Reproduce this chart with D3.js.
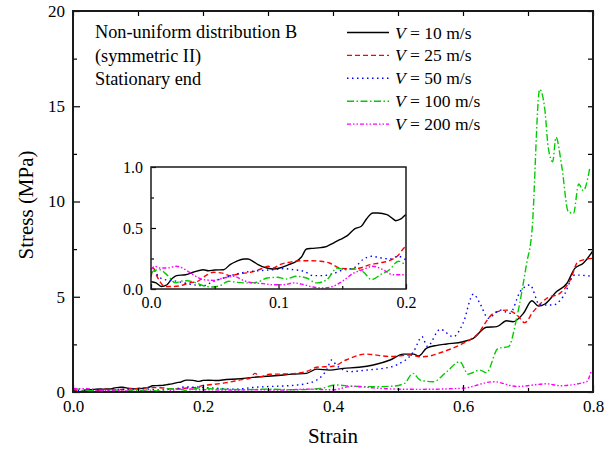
<!DOCTYPE html>
<html>
<head>
<meta charset="utf-8">
<script src="https://cdn.jsdelivr.net/npm/d3@7"></script>
<style>
body { margin: 0; background: #fff; }
text { font-family: "Liberation Serif", "Times New Roman", serif; fill: #000; }
</style>
</head>
<body>
<script>
// strain / stress pairs
var v10 = [[0,0.06],[0.004,0.05],[0.008,0.02],[0.0125,0.035],[0.017,0.09],[0.02,0.11],[0.027,0.117],[0.033,0.137],[0.041,0.158],[0.045,0.15],[0.05,0.156],[0.057,0.158],[0.062,0.2],[0.067,0.227],[0.073,0.246],[0.076,0.246],[0.08,0.227],[0.084,0.2],[0.091,0.172],[0.096,0.164],[0.101,0.172],[0.108,0.2],[0.114,0.227],[0.118,0.262],[0.122,0.328],[0.126,0.333],[0.133,0.339],[0.138,0.35],[0.143,0.377],[0.148,0.404],[0.154,0.437],[0.16,0.495],[0.165,0.514],[0.169,0.574],[0.174,0.623],[0.178,0.623],[0.185,0.609],[0.189,0.582],[0.192,0.56],[0.196,0.574],[0.2,0.609],[0.21,0.62],[0.221,0.6],[0.236,0.66],[0.252,0.68],[0.277,0.77],[0.288,0.8],[0.31,0.85],[0.339,0.94],[0.359,0.98],[0.375,1.2],[0.395,1.15],[0.416,1.24],[0.44,1.3],[0.462,1.42],[0.488,1.68],[0.508,1.99],[0.524,1.99],[0.532,1.89],[0.544,2.3],[0.56,2.45],[0.575,2.52],[0.6,2.64],[0.616,2.82],[0.636,3.4],[0.652,3.43],[0.667,3.74],[0.677,3.69],[0.693,4.13],[0.706,4.79],[0.716,4.51],[0.726,4.62],[0.744,5.27],[0.76,5.71],[0.772,6.49],[0.785,6.76],[0.8,7.42]];

var v25 = [[0,0.1],[0.002,0.17],[0.004,0.12],[0.007,0.06],[0.011,0.02],[0.016,0.02],[0.023,0.027],[0.03,0.05],[0.036,0.06],[0.043,0.11],[0.049,0.137],[0.056,0.13],[0.062,0.11],[0.07,0.126],[0.078,0.137],[0.086,0.164],[0.092,0.186],[0.096,0.172],[0.101,0.2],[0.109,0.22],[0.117,0.232],[0.125,0.232],[0.133,0.227],[0.14,0.213],[0.148,0.172],[0.156,0.164],[0.164,0.172],[0.172,0.2],[0.179,0.213],[0.187,0.232],[0.193,0.268],[0.2,0.35],[0.21,0.38],[0.236,0.49],[0.26,0.65],[0.272,0.72],[0.28,0.98],[0.288,0.8],[0.302,0.93],[0.33,0.95],[0.359,1.07],[0.375,1.3],[0.4,1.35],[0.42,1.68],[0.451,1.99],[0.488,1.86],[0.519,1.94],[0.534,1.85],[0.55,1.9],[0.565,2.06],[0.6,2.55],[0.621,2.99],[0.647,4.13],[0.667,4.3],[0.683,4.04],[0.695,3.64],[0.708,4.22],[0.729,4.92],[0.749,5.18],[0.765,5.88],[0.777,6.84],[0.8,7.02]];

var v50 = [[0,0.13],[0.002,0.158],[0.006,0.1],[0.011,0.077],[0.018,0.068],[0.026,0.05],[0.033,0.035],[0.041,0.027],[0.049,0.063],[0.057,0.09],[0.065,0.117],[0.073,0.137],[0.08,0.145],[0.088,0.153],[0.096,0.158],[0.104,0.167],[0.112,0.158],[0.12,0.145],[0.127,0.11],[0.135,0.11],[0.143,0.126],[0.151,0.158],[0.159,0.172],[0.166,0.24],[0.173,0.268],[0.181,0.254],[0.187,0.246],[0.194,0.268],[0.2,0.24],[0.22,0.2],[0.25,0.15],[0.28,0.25],[0.31,0.3],[0.34,0.35],[0.36,0.45],[0.375,0.63],[0.39,1.15],[0.398,1.68],[0.405,1.42],[0.426,1.07],[0.451,1.15],[0.477,1.24],[0.498,1.42],[0.524,2.12],[0.537,2.9],[0.545,2.4],[0.565,3.29],[0.585,2.9],[0.6,3.6],[0.616,5.14],[0.626,4.65],[0.639,3.87],[0.657,4.3],[0.672,4.13],[0.688,5.27],[0.703,5.62],[0.718,4.57],[0.739,4.57],[0.754,5.0],[0.772,6.14],[0.795,6.09]];

var v100 = [[0,0.13],[0.003,0.153],[0.007,0.158],[0.011,0.13],[0.015,0.09],[0.019,0.05],[0.023,0.063],[0.028,0.068],[0.034,0.055],[0.041,0.027],[0.048,0.016],[0.054,0.027],[0.061,0.063],[0.067,0.055],[0.075,0.05],[0.083,0.055],[0.091,0.09],[0.099,0.096],[0.106,0.082],[0.114,0.104],[0.122,0.09],[0.13,0.05],[0.138,0.077],[0.146,0.172],[0.152,0.158],[0.159,0.164],[0.166,0.145],[0.173,0.077],[0.18,0.117],[0.187,0.158],[0.194,0.227],[0.2,0.2],[0.23,0.15],[0.26,0.12],[0.3,0.15],[0.34,0.12],[0.38,0.18],[0.405,0.37],[0.43,0.3],[0.46,0.28],[0.49,0.3],[0.51,0.45],[0.523,0.98],[0.534,0.63],[0.554,0.54],[0.575,1.07],[0.595,1.59],[0.608,0.94],[0.626,1.15],[0.636,1.01],[0.654,2.29],[0.67,2.38],[0.683,3.95],[0.698,6.76],[0.706,8.4],[0.718,15.89],[0.726,14.8],[0.731,12.88],[0.738,12.09],[0.743,13.37],[0.752,11.83],[0.762,9.46],[0.77,9.38],[0.778,10.92],[0.785,10.57],[0.795,11.74]];

var v200 = [[0,0.158],[0.003,0.186],[0.007,0.172],[0.0125,0.172],[0.02,0.186],[0.027,0.158],[0.033,0.117],[0.041,0.077],[0.049,0.071],[0.057,0.09],[0.065,0.104],[0.073,0.068],[0.08,0.05],[0.088,0.044],[0.096,0.035],[0.104,0.035],[0.112,0.05],[0.12,0.035],[0.127,0.016],[0.135,0.008],[0.143,0.022],[0.15,0.063],[0.159,0.13],[0.166,0.158],[0.174,0.186],[0.182,0.158],[0.19,0.117],[0.2,0.117],[0.24,0.1],[0.28,0.12],[0.32,0.1],[0.36,0.15],[0.4,0.12],[0.43,0.3],[0.46,0.22],[0.5,0.15],[0.534,0.14],[0.6,0.2],[0.647,0.54],[0.683,0.29],[0.729,0.43],[0.749,0.33],[0.79,0.54],[0.797,1.07]];

var speeds = [10, 25, 50, 100, 200];
var note = ["Non-uniform distribution B", "(symmetric II)", "Stationary end"];
var xTicks = [0, 0.2, 0.4, 0.6, 0.8];
var yTicks = [0, 5, 10, 15, 20];
var insetXTicks = [0, 0.1, 0.2];
var insetYTicks = [0, 0.5, 1.0];

var series = [
  {data: v10, color: "#000000", dash: null},
  {data: v25, color: "#ff0000", dash: "5,3"},
  {data: v50, color: "#0000ff", dash: "1.5,3.5"},
  {data: v100, color: "#00cc00", dash: "7,2.5,1.5,2.5"},
  {data: v200, color: "#ff00ff", dash: "4,2,1.5,2,1.5,2"}
];

var svg = d3.select("body").append("svg")
    .attr("width", 613)
    .attr("height", 450);

var pLeft = 73, pTop = 11, pRight = 593, pBottom = 392;

var x = d3.scaleLinear().domain([0, 0.8]).range([pLeft, pRight]);
var y = d3.scaleLinear().domain([0, 20]).range([pBottom, pTop]);

var defs = svg.append("defs");
defs.append("clipPath").attr("id", "mainClip")
  .append("rect").attr("x", pLeft).attr("y", pTop)
  .attr("width", pRight - pLeft).attr("height", pBottom - pTop);

function drawLines(g, xs, ys, width) {
  var line = d3.line()
      .x(function(d) { return xs(d[0]); })
      .y(function(d) { return ys(d[1]); })
      .curve(d3.curveMonotoneX);
  g.selectAll("path.s")
    .data(series)
    .enter()
    .append("path")
    .attr("class", "s")
    .attr("d", function(d) { return line(d.data); })
    .attr("fill", "none")
    .attr("stroke", function(d) { return d.color; })
    .attr("stroke-width", width)
    .attr("stroke-dasharray", function(d) { return d.dash; });
}

// main curves
drawLines(svg.append("g").attr("clip-path", "url(#mainClip)"), x, y, 1.4);

// axes, ticks pointing inward
function tickAxis(axis, scale, values, size, fmt) {
  return axis(scale).tickValues(values).tickSizeInner(size).tickSizeOuter(0)
      .tickPadding(fmt ? 8 : 0).tickFormat(fmt || "");
}

function styleAxis(g, fs) {
  g.select(".domain").remove();
  g.selectAll("line").attr("stroke", "#000").attr("stroke-width", 1.2);
  g.selectAll("text").attr("font-size", fs).attr("font-family", "Liberation Serif").attr("fill", "#000");
}

var xMinor = [0.1, 0.3, 0.5, 0.7];
var yMinor = [2.5, 7.5, 12.5, 17.5];

svg.append("g").attr("transform", "translate(0," + pBottom + ")")
  .call(tickAxis(d3.axisBottom, x, xTicks, -7, d3.format(".1f")))
  .call(styleAxis, "17px");
svg.append("g").attr("transform", "translate(0," + pBottom + ")")
  .call(tickAxis(d3.axisBottom, x, xMinor, -4, null))
  .call(styleAxis, "17px");
svg.append("g").attr("transform", "translate(0," + pTop + ")")
  .call(tickAxis(d3.axisTop, x, xTicks.concat(xMinor), -5, null))
  .call(styleAxis, "17px");
svg.append("g").attr("transform", "translate(" + pLeft + ",0)")
  .call(tickAxis(d3.axisLeft, y, yTicks, -7, d3.format("d")))
  .call(styleAxis, "17px");
svg.append("g").attr("transform", "translate(" + pLeft + ",0)")
  .call(tickAxis(d3.axisLeft, y, yMinor, -4, null))
  .call(styleAxis, "17px");
svg.append("g").attr("transform", "translate(" + pRight + ",0)")
  .call(tickAxis(d3.axisRight, y, yTicks.concat(yMinor), -5, null))
  .call(styleAxis, "17px");

svg.append("rect")
  .attr("x", pLeft).attr("y", pTop)
  .attr("width", pRight - pLeft).attr("height", pBottom - pTop)
  .attr("fill", "none").attr("stroke", "#1a1a1a").attr("stroke-width", 2);

// axis titles
svg.append("text")
  .attr("x", (pLeft + pRight) / 2)
  .attr("y", 443)
  .attr("text-anchor", "middle")
  .attr("font-size", "21px")
  .text("Strain");
svg.append("text")
  .attr("transform", "translate(33,205) rotate(-90)")
  .attr("text-anchor", "middle")
  .attr("font-size", "21px")
  .text("Stress (MPa)");

// note text
svg.selectAll("text.note")
  .data(note)
  .enter()
  .append("text")
  .attr("class", "note")
  .attr("x", 95)
  .attr("y", function(d, i) { return 38 + i * 23.5; })
  .attr("font-size", "18.3px")
  .text(function(d) { return d; });

// legend
var leg = svg.selectAll("g.leg")
  .data(series)
  .enter()
  .append("g")
  .attr("class", "leg")
  .attr("transform", function(d, i) { return "translate(347," + (32.5 + i * 22.9) + ")"; });
leg.append("line")
  .attr("x1", 0).attr("x2", 42)
  .attr("stroke", function(d) { return d.color; })
  .attr("stroke-width", 1.4)
  .attr("stroke-dasharray", function(d) { return d.dash; });
var lt = leg.append("text")
  .attr("x", 48)
  .attr("y", 6)
  .attr("font-size", "17.5px");
lt.append("tspan").attr("font-style", "italic").text("V");
lt.append("tspan").text(function(d, i) { return " = " + speeds[i] + " m/s"; });

// inset
var iLeft = 151, iTop = 167, iRight = 406, iBottom = 289;
var ix = d3.scaleLinear().domain([0, 0.2]).range([iLeft, iRight]);
var iy = d3.scaleLinear().domain([0, 1]).range([iBottom, iTop]);

defs.append("clipPath").attr("id", "insetClip")
  .append("rect").attr("x", iLeft).attr("y", iTop)
  .attr("width", iRight - iLeft).attr("height", iBottom - iTop);

svg.append("rect")
  .attr("x", iLeft).attr("y", iTop)
  .attr("width", iRight - iLeft).attr("height", iBottom - iTop)
  .attr("fill", "#fff");

drawLines(svg.append("g").attr("clip-path", "url(#insetClip)"), ix, iy, 1.4);

svg.append("g").attr("transform", "translate(0," + iBottom + ")")
  .call(tickAxis(d3.axisBottom, ix, insetXTicks, -5, d3.format(".1f")))
  .call(styleAxis, "16px");
svg.append("g").attr("transform", "translate(0," + iBottom + ")")
  .call(tickAxis(d3.axisBottom, ix, [0.05, 0.15], -3, null))
  .call(styleAxis, "16px");
svg.append("g").attr("transform", "translate(" + iLeft + ",0)")
  .call(tickAxis(d3.axisLeft, iy, insetYTicks, -5, d3.format(".1f")))
  .call(styleAxis, "16px");
svg.append("g").attr("transform", "translate(" + iLeft + ",0)")
  .call(tickAxis(d3.axisLeft, iy, [0.25, 0.75], -3, null))
  .call(styleAxis, "16px");

svg.append("rect")
  .attr("x", iLeft).attr("y", iTop)
  .attr("width", iRight - iLeft).attr("height", iBottom - iTop)
  .attr("fill", "none").attr("stroke", "#1a1a1a").attr("stroke-width", 1.5);
</script>
</body>
</html>
